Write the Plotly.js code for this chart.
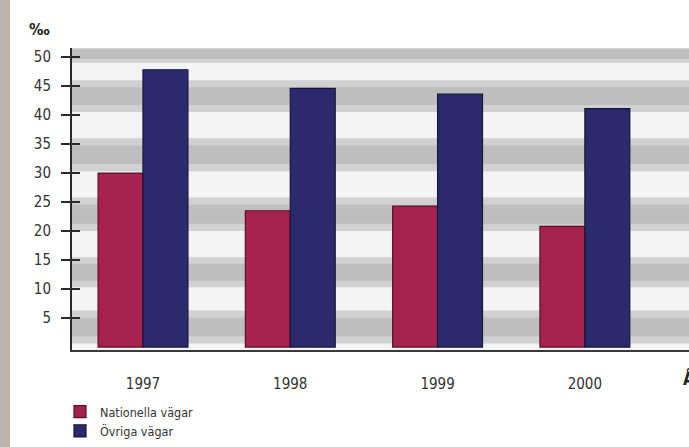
<!DOCTYPE html>
<html>
<head>
<meta charset="utf-8">
<script src="https://cdn.plot.ly/plotly-3.0.1.min.js"></script>
<style>
  html, body { margin: 0; padding: 0; background: #ffffff; }
  #chart { width: 689px; height: 447px; }
</style>
</head>
<body>
<div id="chart"></div>
<script>
// ---- data ----
const years = ['1997', '1998', '1999', '2000'];
const nationella = [30.0, 23.5, 24.3, 20.8];
const ovriga = [47.8, 44.6, 43.6, 41.1];
const seriesNames = ['Nationella vägar', 'Övriga vägar'];
const yTickVals = [5, 10, 15, 20, 25, 30, 35, 40, 45, 50];
const unitLabel = '‰';
const xAxisLabel = 'År';

// ---- style ----
const FONT = 'Liberation Sans Narrow, DejaVu Sans Condensed, Arial Narrow, Roboto, sans-serif';
const RED = '#a5224d';
const BLUE = '#2b2a6c';
const ML = 72, MR = 0, MT = 48, MB = 97, W = 689, H = 447;
const plotW = W - ML - MR;
const plotH = H - MT - MB;

// decorative background stripes (scanned paper look)
const grayBands = [[0.6, 6.3], [10.3, 15.5], [20.0, 25.8], [30.3, 36.0], [40.5, 46.0], [49.0, 52.0]];
const shapes = [];
grayBands.forEach(b => {
  shapes.push({type: 'rect', xref: 'paper', yref: 'y', x0: 0, x1: 1, y0: b[0], y1: b[1],
    fillcolor: 'rgba(160,160,160,0.42)', line: {width: 0}, layer: 'below'});
  shapes.push({type: 'rect', xref: 'paper', yref: 'y', x0: 0, x1: 1,
    y0: b[0] + (b[1] - b[0]) * 0.22, y1: b[1] - (b[1] - b[0]) * 0.22,
    fillcolor: 'rgba(150,150,150,0.32)', line: {width: 0}, layer: 'below'});
});
// left beige strip of the scanned page
shapes.push({type: 'rect', xref: 'paper', yref: 'paper',
  x0: -ML / plotW, x1: (10 - ML) / plotW, y0: -MB / plotH, y1: (H - MB) / plotH,
  fillcolor: '#bdb4ab', line: {width: 0}, layer: 'below'});

const traces = [
  {type: 'bar', name: seriesNames[0], x: years, y: nationella,
   marker: {color: RED, line: {color: '#5e1028', width: 1.2}}},
  {type: 'bar', name: seriesNames[1], x: years, y: ovriga,
   marker: {color: BLUE, line: {color: '#15153a', width: 1.2}}},
  // invisible trace that carries the inner half of the y tick marks
  {type: 'scatter', x: years, y: nationella, yaxis: 'y2',
   mode: 'none', showlegend: false, hoverinfo: 'skip'}
];

const layout = {
  width: W, height: H,
  margin: {l: ML, r: MR, t: MT, b: MB, pad: 0},
  paper_bgcolor: '#ffffff',
  plot_bgcolor: '#f4f4f4',
  font: {family: FONT, color: '#333333', size: 15},
  barmode: 'group',
  bargap: 0.39,
  bargroupgap: 0,
  showlegend: true,
  legend: {
    x: (60 - ML) / plotW, xanchor: 'left',
    y: (350 - 397) / plotH, yanchor: 'top',
    orientation: 'v', traceorder: 'normal',
    font: {family: FONT, size: 12.5, color: '#333333'},
    bgcolor: 'rgba(0,0,0,0)', itemwidth: 30, tracegroupgap: 0
  },
  xaxis: {
    type: 'category', range: [-0.482, 3.707],
    showgrid: false, zeroline: false,
    showline: true, linecolor: '#3a3a3a', linewidth: 2,
    ticks: '', ticklabelstandoff: 19,
    tickfont: {family: FONT, size: 15, color: '#333333'}
  },
  yaxis: {
    range: [-0.5, 51.55],
    tickvals: yTickVals, ticktext: yTickVals.map(String),
    showgrid: false, zeroline: false,
    showline: true, linecolor: '#2a2a2a', linewidth: 2,
    ticks: 'outside', ticklen: 9, tickwidth: 2, tickcolor: '#2a2a2a',
    ticklabelstandoff: 7,
    tickfont: {family: FONT, size: 15, color: '#333333'}
  },
  yaxis2: {
    overlaying: 'y', side: 'left', range: [-0.5, 51.55],
    tickvals: yTickVals, showticklabels: false,
    showgrid: false, zeroline: false, showline: false,
    ticks: 'inside', ticklen: 8, tickwidth: 2, tickcolor: '#2a2a2a'
  },
  shapes: shapes,
  annotations: [
    {text: '<b>' + unitLabel + '</b>', xref: 'paper', yref: 'paper',
     x: (39 - ML) / plotW, y: (350 - 29) / plotH, xanchor: 'center', yanchor: 'middle',
     showarrow: false, font: {family: FONT, size: 16, color: '#222222'}},
    {text: '<b>' + xAxisLabel + '</b>', xref: 'paper', yref: 'paper',
     x: (681 - ML) / plotW, y: (350 - 378) / plotH, xanchor: 'left', yanchor: 'middle',
     showarrow: false, font: {family: FONT, size: 17, color: '#222222'}}
  ]
};

Plotly.newPlot('chart', traces, layout, {displayModeBar: false, staticPlot: true});
</script>
</body>
</html>
